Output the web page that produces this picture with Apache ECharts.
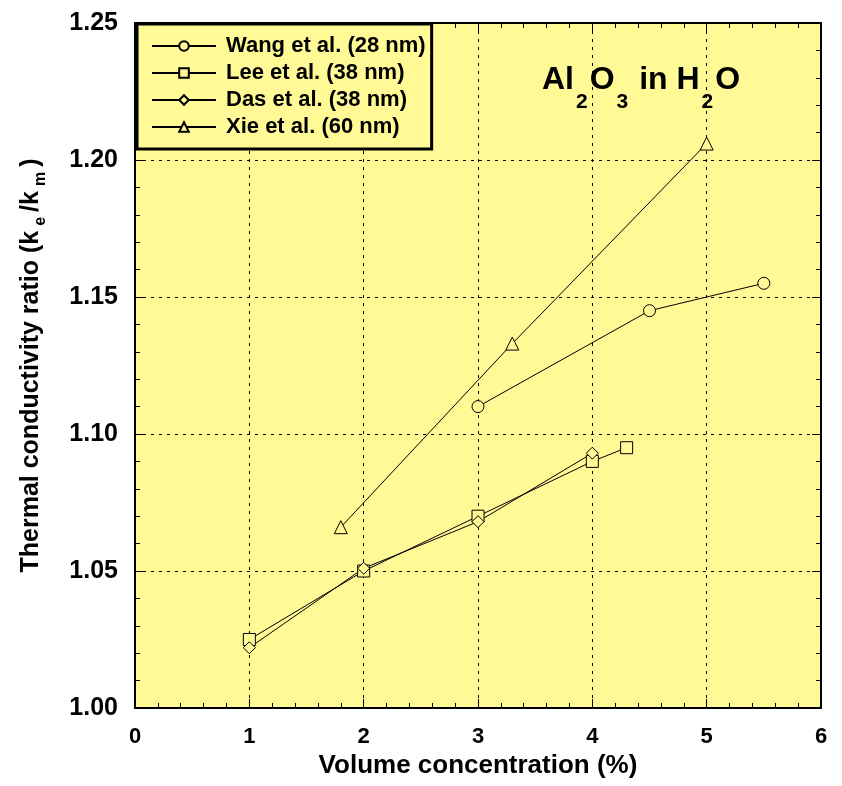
<!DOCTYPE html>
<html lang="en">
<head>
    <meta charset="UTF-8">
    <title>Al2O3 in H2O</title>
    <style>
        body,html{
            margin: 0;
            height: 100%;
            width: 100%;
            background: #fff;
        }
    </style>
</head>
<body>
<div id="main" style="height: 786px; width: 842px;"></div>
<script src="https://cdn.jsdelivr.net/npm/echarts@6/dist/echarts.min.js"></script>
<script>
    // data
    var wangX = [3, 4.5, 5.5];
    var wangY = [1.110, 1.145, 1.155];
    var leeX = [1, 2, 3, 4, 4.3];
    var leeY = [1.025, 1.050, 1.070, 1.090, 1.095];
    var dasX = [1, 2, 3, 4];
    var dasY = [1.022, 1.051, 1.068, 1.093];
    var xieX = [1.8, 3.3, 5.0];
    var xieY = [1.066, 1.133, 1.206];

    var names = ['Wang et al. (28 nm)', 'Lee et al. (38 nm)', 'Das et al. (38 nm)', 'Xie et al. (60 nm)'];
    var symbols = ['circle', 'rect', 'diamond', 'triangle'];

    function pairs(xs, ys) {
        return xs.map(function (x, i) { return [x, ys[i]]; });
    }
    var allData = [pairs(wangX, wangY), pairs(leeX, leeY), pairs(dasX, dasY), pairs(xieX, xieY)];

    var font = 'Liberation Sans, Arial, sans-serif';
    var tickStyle = {show: true, inside: true, length: 9, lineStyle: {color: '#000', width: 1}};
    var minorStyle = {show: true, splitNumber: 5, length: 5, lineStyle: {color: '#000', width: 1}};

    var myChart = echarts.init(document.getElementById('main'));
    myChart.setOption({
        animation: false,
        backgroundColor: '#fff',
        grid: {
            left: 135, right: 21, top: 23, bottom: 78,
            show: true,
            backgroundColor: '#FFF996',
            borderWidth: 0
        },
        legend: {
            left: 137, top: 24,
            orient: 'vertical',
            backgroundColor: '#FFF996',
            borderColor: '#000',
            borderWidth: 3,
            borderRadius: 0,
            padding: [11, 6, 11, 14],
            itemWidth: 64,
            itemHeight: 12,
            itemGap: 5,
            textStyle: {fontFamily: font, fontSize: 22, fontWeight: 'bold', color: '#000', padding: [0, 0, 0, 5]},
            data: names
        },
        graphic: [{
            type: 'text',
            left: 542, top: 64,
            style: {
                text: 'Al{s|2}O{s|3} in H{s|2}O',
                font: 'bold 32px ' + font,
                fill: '#000',
                rich: {
                    s: {fontSize: 21, fontWeight: 'bold', fontFamily: font, padding: [44, 2, 0, 2]}
                }
            }
        }],
        xAxis: [{
            type: 'value', min: 0, max: 6, interval: 1,
            position: 'bottom',
            name: 'Volume concentration (%)',
            nameLocation: 'middle', nameGap: 40,
            nameTextStyle: {fontFamily: font, fontSize: 26, fontWeight: 'bold', color: '#000'},
            axisLine: {show: true, onZero: false, lineStyle: {color: '#000', width: 2}},
            axisTick: tickStyle,
            minorTick: minorStyle,
            axisLabel: {fontFamily: font, fontSize: 22, fontWeight: 'bold', color: '#000', margin: 18},
            splitLine: {show: true, lineStyle: {color: '#000', type: [3, 5], width: 1}}
        }, {
            type: 'value', min: 0, max: 6, interval: 1,
            position: 'top',
            axisLine: {show: true, onZero: false, lineStyle: {color: '#000', width: 2}},
            axisTick: tickStyle,
            minorTick: minorStyle,
            axisLabel: {show: false},
            splitLine: {show: false}
        }],
        yAxis: [{
            type: 'value', min: 1.0, max: 1.25, interval: 0.05,
            position: 'left',
            name: 'Thermal conductivity ratio (k{sub|e}/k{sub|m})',
            nameLocation: 'middle', nameGap: 86,
            nameTextStyle: {
                fontFamily: font, fontSize: 25, fontWeight: 'bold', color: '#000',
                rich: {
                    sub: {fontFamily: font, fontSize: 16, fontWeight: 'bold', color: '#000', padding: [20, 5, 0, 5]}
                }
            },
            axisLine: {show: true, onZero: false, lineStyle: {color: '#000', width: 2}},
            axisTick: tickStyle,
            minorTick: minorStyle,
            axisLabel: {
                fontFamily: font, fontSize: 25, fontWeight: 'bold', color: '#000', margin: 17,
                formatter: function (v) { return v.toFixed(2); }
            },
            splitLine: {show: true, lineStyle: {color: '#000', type: [3, 5], width: 1}}
        }, {
            type: 'value', min: 1.0, max: 1.25, interval: 0.05,
            position: 'right',
            axisLine: {show: true, onZero: false, lineStyle: {color: '#000', width: 2}},
            axisTick: tickStyle,
            minorTick: minorStyle,
            axisLabel: {show: false},
            splitLine: {show: false}
        }],
        series: names.map(function (n, i) {
            return {
                name: n,
                type: 'line',
                data: allData[i],
                symbol: symbols[i],
                symbolSize: i === 3 ? 13 : 12,
                showAllSymbol: true,
                color: '#000',
                lineStyle: {color: '#000', width: 1},
                itemStyle: {color: '#FFF996', borderColor: '#000', borderWidth: 1}
            };
        })
    });
</script>
</body>
</html>
